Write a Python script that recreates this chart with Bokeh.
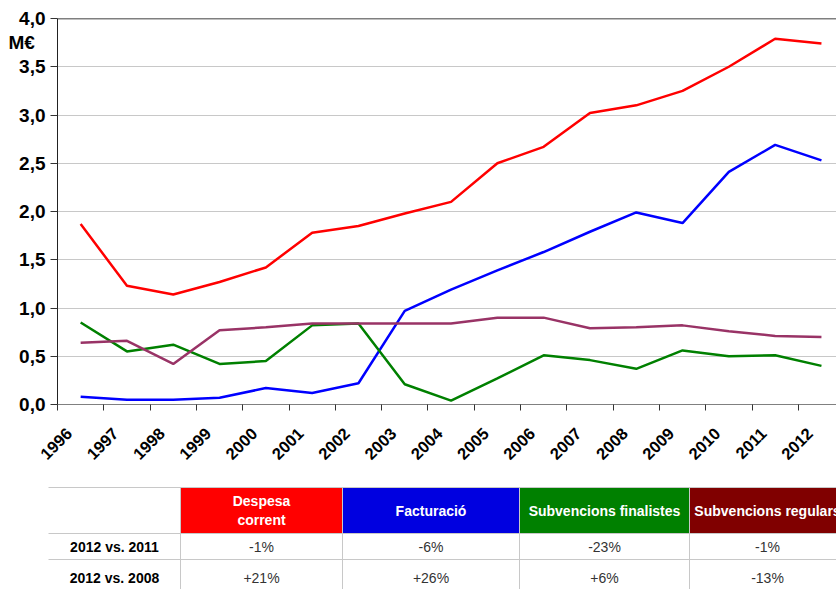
import math
from bokeh.plotting import figure
from bokeh.models import FixedTicker, Range1d, Span, ColumnDataSource
from bokeh.layouts import column
from bokeh.embed import file_html
from bokeh.resources import INLINE
from bokeh.core.properties import value

# ---------------- data ----------------
years = list(range(1996, 2013))
year_labels = [str(y) for y in years]

despesa_corrent = [1.87, 1.23, 1.14, 1.27, 1.42, 1.78, 1.85, 1.98, 2.10, 2.50, 2.67, 3.02, 3.10, 3.25, 3.50, 3.79, 3.74]
facturacio = [0.08, 0.05, 0.05, 0.07, 0.17, 0.12, 0.22, 0.97, 1.19, 1.39, 1.58, 1.79, 1.99, 1.88, 2.41, 2.69, 2.53]
subv_finalistes = [0.85, 0.55, 0.62, 0.42, 0.45, 0.82, 0.84, 0.21, 0.04, 0.27, 0.51, 0.46, 0.37, 0.56, 0.50, 0.51, 0.40]
subv_regulars = [0.64, 0.66, 0.42, 0.77, 0.80, 0.84, 0.84, 0.84, 0.84, 0.90, 0.90, 0.79, 0.80, 0.82, 0.76, 0.71, 0.70]

y_ticks = [0.0, 0.5, 1.0, 1.5, 2.0, 2.5, 3.0, 3.5, 4.0]
y_tick_labels = ["0,0", "0,5", "1,0", "1,5", "2,0", "2,5", "3,0", "3,5", "4,0"]
unit_label = "M€"
unit_label_pos = 3.75   # vertical place of the unit text beside the axis

series_names = ["Despesa\ncorrent", "Facturació", "Subvencions finalistes", "Subvencions regulars"]
series_colors = ["#ff0000", "#0000ff", "#008000", "#993366"]
header_colors = ["#ff0000", "#0000e0", "#008000", "#800000"]
row_labels = ["2012 vs. 2011", "2012 vs. 2008"]
change_vs_2011 = ["-1%", "-6%", "-23%", "-1%"]
change_vs_2008 = ["+21%", "+26%", "+6%", "-13%"]

FONT = "Liberation Sans"

# ---------------- chart ----------------
p = figure(width=836, height=486, output_backend="svg", toolbar_location=None,
           x_range=Range1d(1995.5, 2012.325), y_range=Range1d(0, 4.0),
           min_border_left=57, min_border_right=0, min_border_top=18, min_border_bottom=82)
p.outline_line_color = None
p.background_fill_color = "white"
p.border_fill_color = "white"

series = [despesa_corrent, facturacio, subv_finalistes, subv_regulars]
for vals, col in zip(series, series_colors):
    p.line(years, vals, line_color=col, line_width=2.5)

# x axis: tick marks at category boundaries, labels near category centres
label_shift = 0.25
label_pos = [y - label_shift for y in years]
xa = p.xaxis[0]
xa.ticker = FixedTicker(ticks=label_pos, minor_ticks=[y - 0.5 for y in years] + [years[-1] + 0.5])
xa.major_label_overrides = {pos: l for pos, l in zip(label_pos, year_labels)}
xa.major_label_orientation = math.pi / 4
xa.major_tick_in = 0
xa.major_tick_out = 0
xa.minor_tick_in = 0
xa.minor_tick_out = 6
xa.minor_tick_line_color = "#333333"
xa.axis_line_color = "#808080"
xa.major_label_text_font = FONT
xa.major_label_text_font_style = "bold"
xa.major_label_text_font_size = "16.5px"
xa.major_label_text_color = "black"
xa.major_label_standoff = 20

# y axis: tick marks drawn as minor ticks, labels (incl. unit) as major labels
ya = p.yaxis[0]
ya.ticker = FixedTicker(ticks=y_ticks + [unit_label_pos], minor_ticks=y_ticks)
overrides = {t: l for t, l in zip(y_ticks, y_tick_labels)}
overrides[unit_label_pos] = unit_label + "\u00a0\u00a0"
ya.major_label_overrides = overrides
ya.major_tick_line_color = None
ya.major_tick_in = 0
ya.major_tick_out = 7
ya.minor_tick_in = 0
ya.minor_tick_out = 7
ya.minor_tick_line_color = "#333333"
ya.axis_line_color = "#222222"
ya.major_label_text_font = FONT
ya.major_label_text_font_style = "bold"
ya.major_label_text_font_size = "19px"
ya.major_label_text_color = "black"
ya.major_label_standoff = 5

p.xgrid.grid_line_color = None
p.ygrid.ticker = FixedTicker(ticks=y_ticks)
p.ygrid.grid_line_color = "#c8c8c8"
p.ygrid.grid_line_width = 1

p.add_layout(Span(location=y_ticks[-1], dimension="width", line_color="black", line_width=1.5))

# ---------------- table ----------------
TW, TH = 836, 103
col_edges = [48, 180, 342, 519, 689, 845]
row_edges = [1, 47, 73, 113]

t = figure(width=TW, height=TH, output_backend="svg", toolbar_location=None,
           x_range=Range1d(0, TW), y_range=Range1d(TH, 0),
           min_border=0, min_border_left=0, min_border_right=0, min_border_top=0, min_border_bottom=0)
if "frame_align" in t.properties():
    t.frame_align = False
t.axis.visible = False
t.grid.visible = False
t.outline_line_color = None

hq = dict(left=[], right=[], fill=[])
for c in range(1, 5):
    hq["left"].append(col_edges[c])
    hq["right"].append(col_edges[c + 1])
    hq["fill"].append(header_colors[c - 1])
t.quad(left="left", right="right", top=row_edges[0], bottom=row_edges[1], fill_color="fill",
       line_color=None, source=ColumnDataSource(hq))

# grid lines of the table
t.segment(x0=[col_edges[0]] * 3, x1=[col_edges[-1]] * 3, y0=row_edges[:3], y1=row_edges[:3],
          line_color="#c8c8c8", line_width=1)
t.segment(x0=col_edges[1:5], x1=col_edges[1:5], y0=[row_edges[0]] * 4, y1=[row_edges[-1]] * 4,
          line_color="#c8c8c8", line_width=1)

col_centers = [(col_edges[i] + col_edges[i + 1]) / 2 for i in range(5)]
row_centers = [(row_edges[i] + row_edges[i + 1]) / 2 for i in range(3)]
row_centers[2] = row_edges[2] + 18

t.text(x=col_centers[1:], y=[row_centers[0]] * 4, text=series_names,
       text_color="white", text_font=value(FONT), text_font_style="bold", text_font_size="14px",
       text_align="center", text_baseline="middle", text_line_height=1.15)
t.text(x=[col_centers[0]] * 2, y=row_centers[1:], text=row_labels,
       text_color="black", text_font=value(FONT), text_font_style="bold", text_font_size="14px",
       text_align="center", text_baseline="middle")
for r, vals in zip([1, 2], [change_vs_2011, change_vs_2008]):
    t.text(x=col_centers[1:], y=[row_centers[r]] * 4, text=vals,
           text_color="#333333", text_font=value(FONT), text_font_size="14px",
           text_align="center", text_baseline="middle")

layout = column(p, t, spacing=0)
open("out.html", "w").write(file_html(layout, INLINE))
